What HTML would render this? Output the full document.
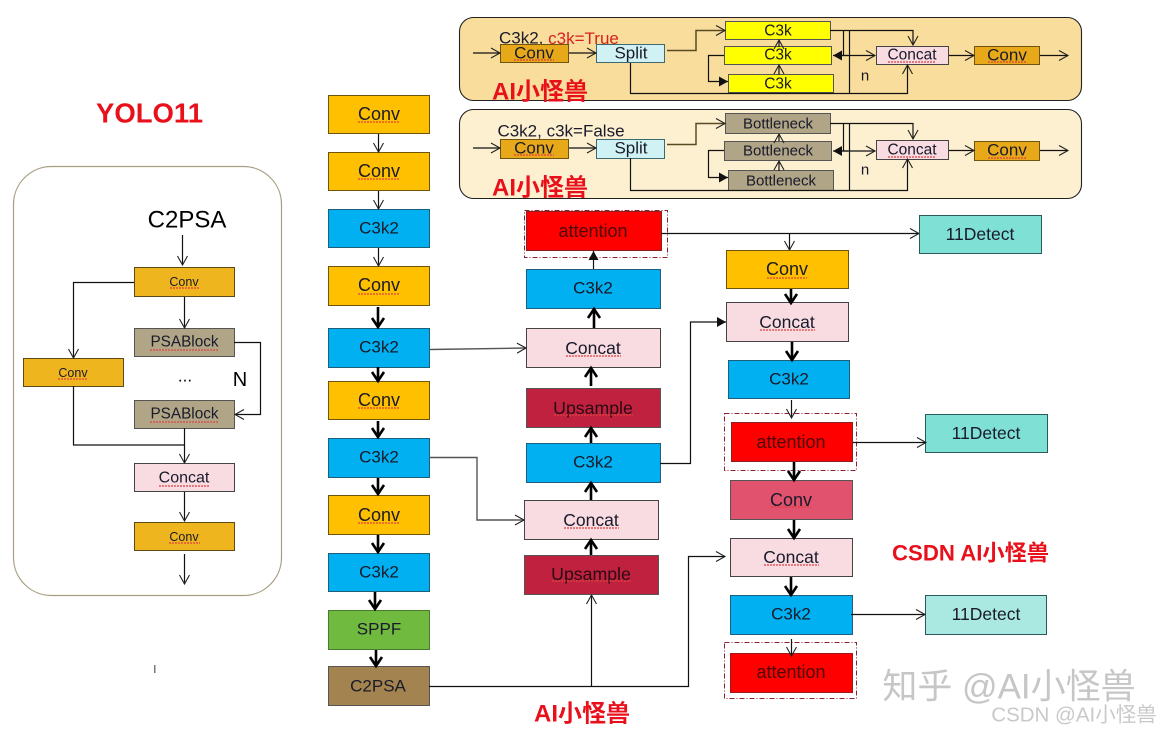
<!DOCTYPE html>
<html><head><meta charset="utf-8">
<style>
html,body{margin:0;padding:0;background:#fff}
svg{display:block;font-family:"Liberation Sans","Noto Sans CJK SC",sans-serif}
text{text-anchor:middle;dominant-baseline:central;fill:#1a1a2a}
.r{fill:#e8101a;font-weight:bold}
.b{stroke-width:1.2}
.y{fill:#ffc000;stroke:#6d5510}
.c{fill:#00b0f0;stroke:#1f5f7c}
.p{fill:#f8dce2;stroke:#444}
.u{fill:#c0213e;stroke:#555}
.a{fill:#ff0000;stroke:#8a2020}
.d{fill:#7fe0d6;stroke:#2b5a5a}
.g{fill:#efb51e;stroke:#5c4a18}
.k{fill:#b0a586;stroke:#555}
.m{fill:#e7a91a;stroke:#6d5510}
.s{fill:#d0f2f5;stroke:#3d6a70}
.e{fill:#ffff00;stroke:#555}
.t{fill:none;stroke:#111;stroke-width:1.2;marker-end:url(#o)}
.h{fill:none;stroke:#000;stroke-width:2.6;marker-end:url(#oh)}
.f{fill:none;stroke:#111;stroke-width:1.2;marker-end:url(#fa)}
.n{fill:none;stroke:#111;stroke-width:1.2}
.q{fill:none;stroke:#e04040;stroke-width:1.2;stroke-dasharray:2 1}
.w{fill:none;stroke:#8a2030;stroke-width:1;stroke-dasharray:5 2 1 2}
</style></head><body>
<svg width="1163" height="735" viewBox="0 0 1163 735" xmlns="http://www.w3.org/2000/svg">
<defs>
<marker id="o" markerUnits="userSpaceOnUse" markerWidth="14" markerHeight="14" refX="11" refY="7" orient="auto"><path d="M2 2 L11 7 L2 12" fill="none" stroke="#222" stroke-width="1.1"/></marker>
<marker id="oh" markerUnits="userSpaceOnUse" markerWidth="16" markerHeight="16" refX="12" refY="8" orient="auto"><path d="M3 2 L12 8 L3 14" fill="none" stroke="#000" stroke-width="2.6"/></marker>
<marker id="fa" markerUnits="userSpaceOnUse" markerWidth="12" markerHeight="12" refX="9" refY="5" orient="auto"><path d="M0 0 L9 5 L0 10 Z" fill="#111"/></marker>
</defs>

<!-- top panels -->
<rect x="459.500" y="17.500" width="622" height="83" rx="14" fill="#f9dd9d" stroke="#222" stroke-width="1.1"/>
<rect x="459.500" y="109.500" width="622" height="89" rx="14" fill="#fdf0d0" stroke="#222" stroke-width="1.1"/>

<!-- panel 1 -->
<text x="499" y="38" font-size="17" style="text-anchor:start">C3k2, <tspan style="fill:#d62020">c3k=True</tspan></text>
<rect class="m" x="500.500" y="44.500" width="68" height="18"/><text x="534" y="53" font-size="17">Conv</text><path class="q" d="M514 60H554"/>
<rect class="s" x="596.500" y="44.500" width="68" height="18"/><text x="631" y="53" font-size="17">Split</text>
<rect class="e" x="725.500" y="21.500" width="105" height="18"/><text x="778" y="31" font-size="15.500">C3k</text>
<rect class="e" x="724.500" y="46.500" width="107" height="18"/><text x="778" y="55" font-size="15.500">C3k</text>
<rect class="e" x="728.500" y="74.500" width="105" height="18"/><text x="778" y="84" font-size="15.500">C3k</text>
<rect class="p" x="876.500" y="46.500" width="72" height="18"/><text x="912" y="55" font-size="15.500">Concat</text><path class="q" d="M888 62H936"/>
<rect class="m" x="974.500" y="46.500" width="65" height="18"/><text x="1007" y="55" font-size="17">Conv</text><path class="q" d="M988 62H1026"/>
<path class="t" d="M473 53H500"/><path class="t" d="M569 53H596"/>
<path class="t" d="M667 50.500H696V30.500H725" style="stroke:#5a4a20;stroke-width:1.500"/>
<path class="t" d="M830 30.500H913V45"/>
<path class="n" d="M843.500 30.500V55.500M849.500 30.500V93"/>
<path class="t" d="M842 55.500H875"/><path class="f" d="M848 55.500H833"/>
<path class="t" d="M630.500 63V93.500H907.500V65"/>
<path class="f" d="M724 55.500H708.500V81.500H728"/>
<path class="t" d="M779 75V65"/><path class="t" d="M779 47V40"/>
<path class="t" d="M949 55.500H974"/><path class="t" d="M1040 55.500H1068"/>
<text x="865" y="76" font-size="15">n</text>
<text class="r" x="540" y="92" font-size="24">AI小怪兽</text>

<!-- panel 2 -->
<text x="561" y="131" font-size="17">C3k2, c3k=False</text>
<rect class="m" x="500.500" y="139.500" width="68" height="19"/><text x="534" y="148" font-size="17">Conv</text><path class="q" d="M514 155H554"/>
<rect class="s" x="596.500" y="139.500" width="68" height="19"/><text x="631" y="148" font-size="17">Split</text>
<rect class="k" x="725.500" y="113.500" width="105" height="20"/><text x="778" y="124" font-size="15">Bottleneck</text>
<rect class="k" x="724.500" y="141.500" width="107" height="19"/><text x="778" y="151" font-size="15">Bottleneck</text>
<rect class="k" x="728.500" y="170.500" width="105" height="20"/><text x="781" y="181" font-size="15">Bottleneck</text>
<rect class="p" x="876.500" y="140.500" width="72" height="19"/><text x="912" y="150" font-size="15.500">Concat</text><path class="q" d="M888 157H936"/>
<rect class="m" x="974.500" y="141.500" width="65" height="19"/><text x="1007" y="150" font-size="17">Conv</text><path class="q" d="M988 158H1026"/>
<path class="t" d="M473 148H500"/><path class="t" d="M569 148H596"/>
<path class="t" d="M667 144.500H696V123.500H725" style="stroke:#5a4a20;stroke-width:1.500"/>
<path class="t" d="M830 123.500H913V139"/>
<path class="n" d="M843.500 123.500V151M849.500 123.500V190"/>
<path class="t" d="M842 151H875"/><path class="f" d="M848 151H833"/>
<path class="t" d="M630.500 158V190.500H907.500V159"/>
<path class="f" d="M724 150.500H708.500V177.500H728"/>
<path class="t" d="M779 171V161"/><path class="t" d="M779 141V134"/>
<path class="t" d="M949 150.500H974"/><path class="t" d="M1040 150.500H1068"/>
<text x="865" y="170" font-size="15">n</text>
<text class="r" x="540" y="188" font-size="24">AI小怪兽</text>

<!-- left -->
<text class="r" x="149.500" y="113" font-size="27.500">YOLO11</text>
<rect x="13.500" y="166.500" width="268" height="429" rx="38" fill="#fff" stroke="#a89f80" stroke-width="1.2"/>
<text x="187" y="220" font-size="24" style="fill:#000">C2PSA</text>
<path class="t" d="M182.500 235V265"/>
<rect class="g" x="134.500" y="267.500" width="100" height="29"/><text x="184" y="282" font-size="12.500">Conv</text><path class="q" d="M170 288H199"/>
<rect class="k" x="134.500" y="328.500" width="100" height="28"/><text x="184.500" y="342" font-size="15.300">PSABlock</text><path class="q" d="M150 350H219"/>
<rect class="g" x="23.500" y="358.500" width="100" height="28"/><text x="73" y="373" font-size="12.500">Conv</text><path class="q" d="M58 379H88"/>
<rect class="k" x="134.500" y="400.500" width="100" height="28"/><text x="184.500" y="414" font-size="15.300">PSABlock</text><path class="q" d="M150 422H219"/>
<rect class="p" x="134.500" y="463.500" width="100" height="28"/><text x="184" y="478" font-size="16">Concat</text><path class="q" d="M159 486H210"/>
<rect class="g" x="134.500" y="522.500" width="100" height="28"/><text x="184" y="537" font-size="12.500">Conv</text><path class="q" d="M169 543H200"/>
<path class="t" d="M184.500 297V328"/>
<path class="t" d="M134 282.500H73.500V358"/>
<path class="t" d="M234 342.500H260.500V414.500H235"/>
<text x="240" y="380" font-size="20" style="fill:#000">N</text>
<text x="185" y="376" font-size="17" style="fill:#000">...</text>
<path class="n" d="M73.500 386V445H184.500"/>
<path class="t" d="M184.500 428V463"/>
<path class="t" d="M184.500 492V521"/>
<path class="t" d="M184.500 554V584"/>
<rect x="154" y="665" width="1.500" height="8" fill="#777"/>

<!-- main column -->
<rect class="y" x="328.500" y="95.500" width="101" height="38"/><text x="379" y="114" font-size="18">Conv</text><path class="q" d="M358 122H399"/>
<rect class="y" x="328.500" y="152.500" width="101" height="38"/><text x="379" y="171" font-size="18">Conv</text><path class="q" d="M358 179H399"/>
<rect class="c" x="328.500" y="209.500" width="101" height="38"/><text x="379" y="228" font-size="17">C3k2</text>
<rect class="y" x="328.500" y="266.500" width="101" height="39"/><text x="379" y="285" font-size="18">Conv</text><path class="q" d="M358 294H399"/>
<rect class="c" x="328.500" y="328.500" width="101" height="39"/><text x="379" y="347" font-size="17">C3k2</text>
<rect class="y" x="328.500" y="381.500" width="101" height="38"/><text x="379" y="400" font-size="18">Conv</text><path class="q" d="M358 408H399"/>
<rect class="c" x="328.500" y="438.500" width="101" height="39"/><text x="379" y="457" font-size="17">C3k2</text>
<rect class="y" x="328.500" y="495.500" width="101" height="39"/><text x="379" y="515" font-size="18">Conv</text><path class="q" d="M358 523H399"/>
<rect class="c" x="328.500" y="553.500" width="101" height="38"/><text x="379" y="572" font-size="17">C3k2</text>
<rect x="328.500" y="610.500" width="101" height="39" fill="#70ba3f" stroke="#4a7a30"/><text x="379" y="629" font-size="17">SPPF</text>
<rect x="328.500" y="666.500" width="101" height="39" fill="#a38450" stroke="#555"/><text x="378" y="686" font-size="17">C2PSA</text>
<path class="t" d="M378.500 134V152"/><path class="t" d="M378.500 191V209"/><path class="t" d="M378.500 248V266"/>
<path class="h" d="M378 307V327"/><path class="h" d="M378 367V381"/><path class="h" d="M378 421V437"/>
<path class="h" d="M378 478V494"/><path class="h" d="M378 535V552"/><path class="h" d="M375 592V609"/><path class="h" d="M376 650V666"/>

<!-- middle column -->
<rect class="w" x="524.500" y="210.500" width="143" height="47"/>
<rect class="a" x="526.500" y="211.500" width="135" height="39"/><text x="593" y="231" font-size="18" style="fill:#4a0808">attention</text>
<rect class="c" x="526.500" y="269.500" width="134" height="39"/><text x="593" y="288" font-size="17">C3k2</text>
<rect class="p" x="526.500" y="328.500" width="134" height="39"/><text x="593" y="348" font-size="17.500">Concat</text><path class="q" d="M566 356H621"/>
<rect class="u" x="526.500" y="388.500" width="134" height="39"/><text x="593" y="408" font-size="17.700" style="fill:#2a0a14">Upsample</text><path class="q" d="M554 415H633"/>
<rect class="c" x="526.500" y="443.500" width="134" height="39"/><text x="593" y="462" font-size="17">C3k2</text>
<rect class="p" x="524.500" y="500.500" width="134" height="39"/><text x="591" y="520" font-size="17.500">Concat</text><path class="q" d="M564 528H619"/>
<rect class="u" x="524.500" y="555.500" width="134" height="39"/><text x="591" y="574" font-size="17.700" style="fill:#2a0a14">Upsample</text><path class="q" d="M552 581H631"/>
<path class="f" d="M593.500 269V251"/>
<path class="h" d="M594 328V309"/><path class="h" d="M591 386V368"/><path class="h" d="M591 443V428"/>
<path class="h" d="M591 500V483"/><path class="h" d="M591 555V540"/>
<path class="t" d="M591.500 686V595"/>
<path class="t" d="M429 686.500H688.500V556.500H725"/>
<path class="t" d="M430 349.500L526 348" style="stroke:#555;stroke-width:1.400"/>
<path class="t" d="M429 457.500H477V520H524" style="stroke:#555;stroke-width:1.400"/>
<path class="f" d="M660 463.500H690.500V322H726"/>
<path class="t" d="M661 233.500H919"/>
<path class="t" d="M789.500 233V250"/>
<text class="r" x="582" y="714" font-size="24">AI小怪兽</text>

<!-- right column -->
<rect class="y" x="726.500" y="250.500" width="122" height="38"/><text x="787" y="269" font-size="18">Conv</text><path class="q" d="M767 278H807"/>
<rect class="p" x="726.500" y="302.500" width="122" height="39"/><text x="787" y="322" font-size="17.500">Concat</text><path class="q" d="M760 330H815"/>
<rect class="c" x="728.500" y="360.500" width="121" height="38"/><text x="789" y="379" font-size="17">C3k2</text>
<rect class="w" x="724.500" y="413.500" width="132" height="57"/>
<rect class="a" x="731.500" y="422.500" width="121" height="39"/><text x="791" y="442" font-size="18" style="fill:#4a0808">attention</text>
<rect x="730.500" y="480.500" width="122" height="39" fill="#e0526e" stroke="#555"/><text x="791" y="500" font-size="18">Conv</text><path class="q" d="M771 507H811"/>
<rect class="p" x="730.500" y="538.500" width="122" height="38"/><text x="791" y="557" font-size="17.500">Concat</text><path class="q" d="M764 565H819"/>
<rect class="c" x="730.500" y="595.500" width="122" height="39"/><text x="791" y="614" font-size="17">C3k2</text>
<rect class="w" x="724.500" y="642.500" width="132" height="56"/>
<rect class="a" x="730.500" y="653.500" width="122" height="39" style="stroke:#a01818"/><text x="791" y="672" font-size="18" style="fill:#4a0808">attention</text>
<rect class="d" x="919.500" y="215.500" width="122" height="38"/><text x="980" y="234" font-size="17.500">11Detect</text>
<rect class="d" x="925.500" y="414.500" width="122" height="38"/><text x="986" y="433" font-size="17.500">11Detect</text>
<rect x="925.500" y="595.500" width="121" height="39" fill="#a9e9e2" stroke="#2b5a5a"/><text x="986" y="614" font-size="17.500">11Detect</text>
<path class="h" d="M791 289V303"/><path class="h" d="M792 342V360"/>
<path class="t" d="M791.500 400V418"/>
<path class="h" d="M794 462V480"/><path class="h" d="M794 520V538"/><path class="h" d="M791 577V595"/>
<path class="t" d="M791.500 639V656"/>
<path class="t" d="M853 442.500H926"/>
<path class="t" d="M851 614.500H925"/>

<text class="r" x="970.500" y="553" font-size="22.200">CSDN AI小怪兽</text>
<text x="1009" y="687" font-size="35" style="fill:#c6c6c6">知乎 @AI小怪兽</text>
<text x="1074" y="715" font-size="20.500" style="fill:#c9c9c9">CSDN @AI小怪兽</text>
</svg>
</body></html>
